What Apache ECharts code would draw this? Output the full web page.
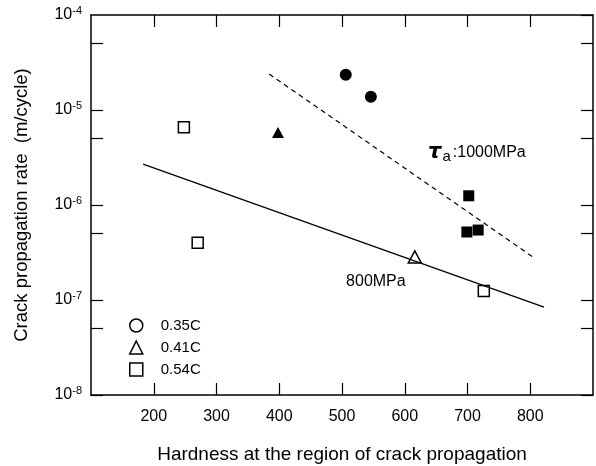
<!DOCTYPE html>
<html>
<head>
<meta charset="utf-8">
<script src="https://cdn.jsdelivr.net/npm/echarts@6/dist/echarts.min.js"></script>
<style>
  html, body { margin: 0; padding: 0; background: #fff; }
  #main { width: 596px; height: 466px; }
</style>
</head>
<body>
<div id="main"></div>
<script>
// hardness vs crack propagation rate (m/cycle)
var c035 = [[506, 2.35e-5], [546, 1.38e-5]];
var c041Filled = [[398, 5.8e-6]];
var c041Open = [[616, 2.84e-7]];
var c054Open = [[248, 6.6e-6], [270, 4.0e-7], [726, 1.24e-7]];
var c054Filled = [[702, 1.25e-6], [699, 5.2e-7], [717, 5.45e-7]];
var line800 = [[183, 2.7e-6], [822, 8.4e-8]];
var line1000 = [[384, 2.39e-5], [804, 2.84e-7]];
var xTicks = [200, 300, 400, 500, 600, 700, 800];
var yTicks = [1e-8, 5e-8, 1e-7, 5e-7, 1e-6, 5e-6, 1e-5, 5e-5, 1e-4];
var label800 = [554, 1.55e-7];
var label1000 = [715, 3.6e-6];

var chartDom = document.getElementById('main');
var myChart = echarts.init(chartDom);
var font = 'Liberation Sans, Arial, sans-serif';
var black = '#000';
var openStyle = { color: '#fff', borderColor: black, borderWidth: 1.5, opacity: 1 };
var fillStyle = { color: black, opacity: 1 };

function xAxisOf(pos) {
  return {
    type: 'value',
    position: pos,
    min: 100,
    max: 900,
    interval: 100,
    name: pos === 'bottom' ? 'Hardness at the region of crack propagation' : '',
    nameLocation: 'middle',
    nameGap: 50,
    nameTextStyle: { color: black, fontSize: 19, fontFamily: font },
    axisLine: { lineStyle: { color: black, width: 1.5 } },
    axisTick: { inside: true, length: 12, customValues: xTicks, lineStyle: { color: black, width: 1.2 } },
    axisLabel: { show: pos === 'bottom', customValues: xTicks, margin: 14, color: black, fontSize: 16, fontFamily: font },
    splitLine: { show: false }
  };
}

function yAxisOf(pos) {
  return {
    type: 'log',
    logBase: 10,
    position: pos,
    min: 1e-8,
    max: 1e-4,
    name: pos === 'left' ? 'Crack propagation rate  (m/cycle)' : '',
    nameLocation: 'middle',
    nameGap: 60,
    nameTextStyle: { color: black, fontSize: 18.5, fontFamily: font },
    axisLine: { lineStyle: { color: black, width: 1.5 } },
    axisTick: { inside: true, length: 12, customValues: yTicks, lineStyle: { color: black, width: 1.2 } },
    axisLabel: {
      show: pos === 'left',
      margin: 9,
      formatter: function (v) {
        var e = Math.round(Math.log10(v));
        return '{b|10}{s|' + e + '}';
      },
      rich: {
        b: { fontSize: 16, fontFamily: font, color: black, lineHeight: 20 },
        s: { fontSize: 11, fontFamily: font, color: black, lineHeight: 20, verticalAlign: 'top', padding: [0, 0, 8, 0] }
      }
    },
    splitLine: { show: false }
  };
}

var option = {
  backgroundColor: '#fff',
  animation: false,
  grid: { left: 91, right: 3, top: 15, bottom: 71, outerBoundsMode: 'none' },
  legend: {
    orient: 'vertical',
    left: 124,
    top: 313,
    itemWidth: 13,
    itemHeight: 13,
    itemGap: 7,
    selectedMode: false,
    textStyle: { color: black, fontSize: 15, fontFamily: font, padding: [0, 0, 0, 13] },
    data: [
      { name: '0.35C', icon: 'circle', itemStyle: openStyle },
      { name: '0.41C', icon: 'triangle', itemStyle: openStyle },
      { name: '0.54C', icon: 'rect', itemStyle: openStyle }
    ]
  },
  xAxis: [xAxisOf('bottom'), xAxisOf('top')],
  yAxis: [yAxisOf('left'), yAxisOf('right')],
  series: [
    {
      name: '800MPa line', type: 'line', data: line800, showSymbol: false, silent: true,
      lineStyle: { color: black, width: 1.3 }
    },
    {
      name: '1000MPa line', type: 'line', data: line1000, showSymbol: false, silent: true,
      lineStyle: { color: black, width: 1.2, type: [5, 4] }
    },
    {
      name: '0.35C', type: 'scatter', data: c035, symbol: 'circle', symbolSize: 12,
      itemStyle: fillStyle
    },
    {
      name: '0.41C', type: 'scatter', data: c041Filled, symbol: 'triangle', symbolSize: [12, 11],
      itemStyle: fillStyle
    },
    {
      name: '0.41C', type: 'scatter', data: c041Open, symbol: 'triangle', symbolSize: [13, 12],
      itemStyle: openStyle
    },
    {
      name: '0.54C', type: 'scatter', data: c054Open, symbol: 'rect', symbolSize: 11,
      itemStyle: openStyle
    },
    {
      name: '0.54C', type: 'scatter', data: c054Filled, symbol: 'rect', symbolSize: 11,
      itemStyle: fillStyle
    },
    {
      name: 'label800', type: 'scatter', data: [label800], symbolSize: 1, silent: true,
      itemStyle: { color: 'rgba(0,0,0,0)', opacity: 1 },
      label: { show: true, position: 'inside', formatter: '800MPa', color: black, fontSize: 16, fontFamily: font }
    },
    {
      name: 'label1000', type: 'scatter', data: [label1000], symbolSize: 1, silent: true,
      itemStyle: { color: 'rgba(0,0,0,0)', opacity: 1 },
      label: {
        show: true, position: 'inside',
        formatter: '{t|τ}{a|a}{r|:1000MPa}',
        rich: {
          t: { fontSize: 21, fontStyle: 'italic', fontWeight: 'bold', fontFamily: 'DejaVu Sans, sans-serif', color: black, lineHeight: 24 },
          a: { fontSize: 15, fontFamily: font, color: black, lineHeight: 24, verticalAlign: 'bottom', padding: [6, 2, 0, 1] },
          r: { fontSize: 16, fontFamily: font, color: black, lineHeight: 24 }
        }
      }
    }
  ]
};

option && myChart.setOption(option);
</script>
</body>
</html>
